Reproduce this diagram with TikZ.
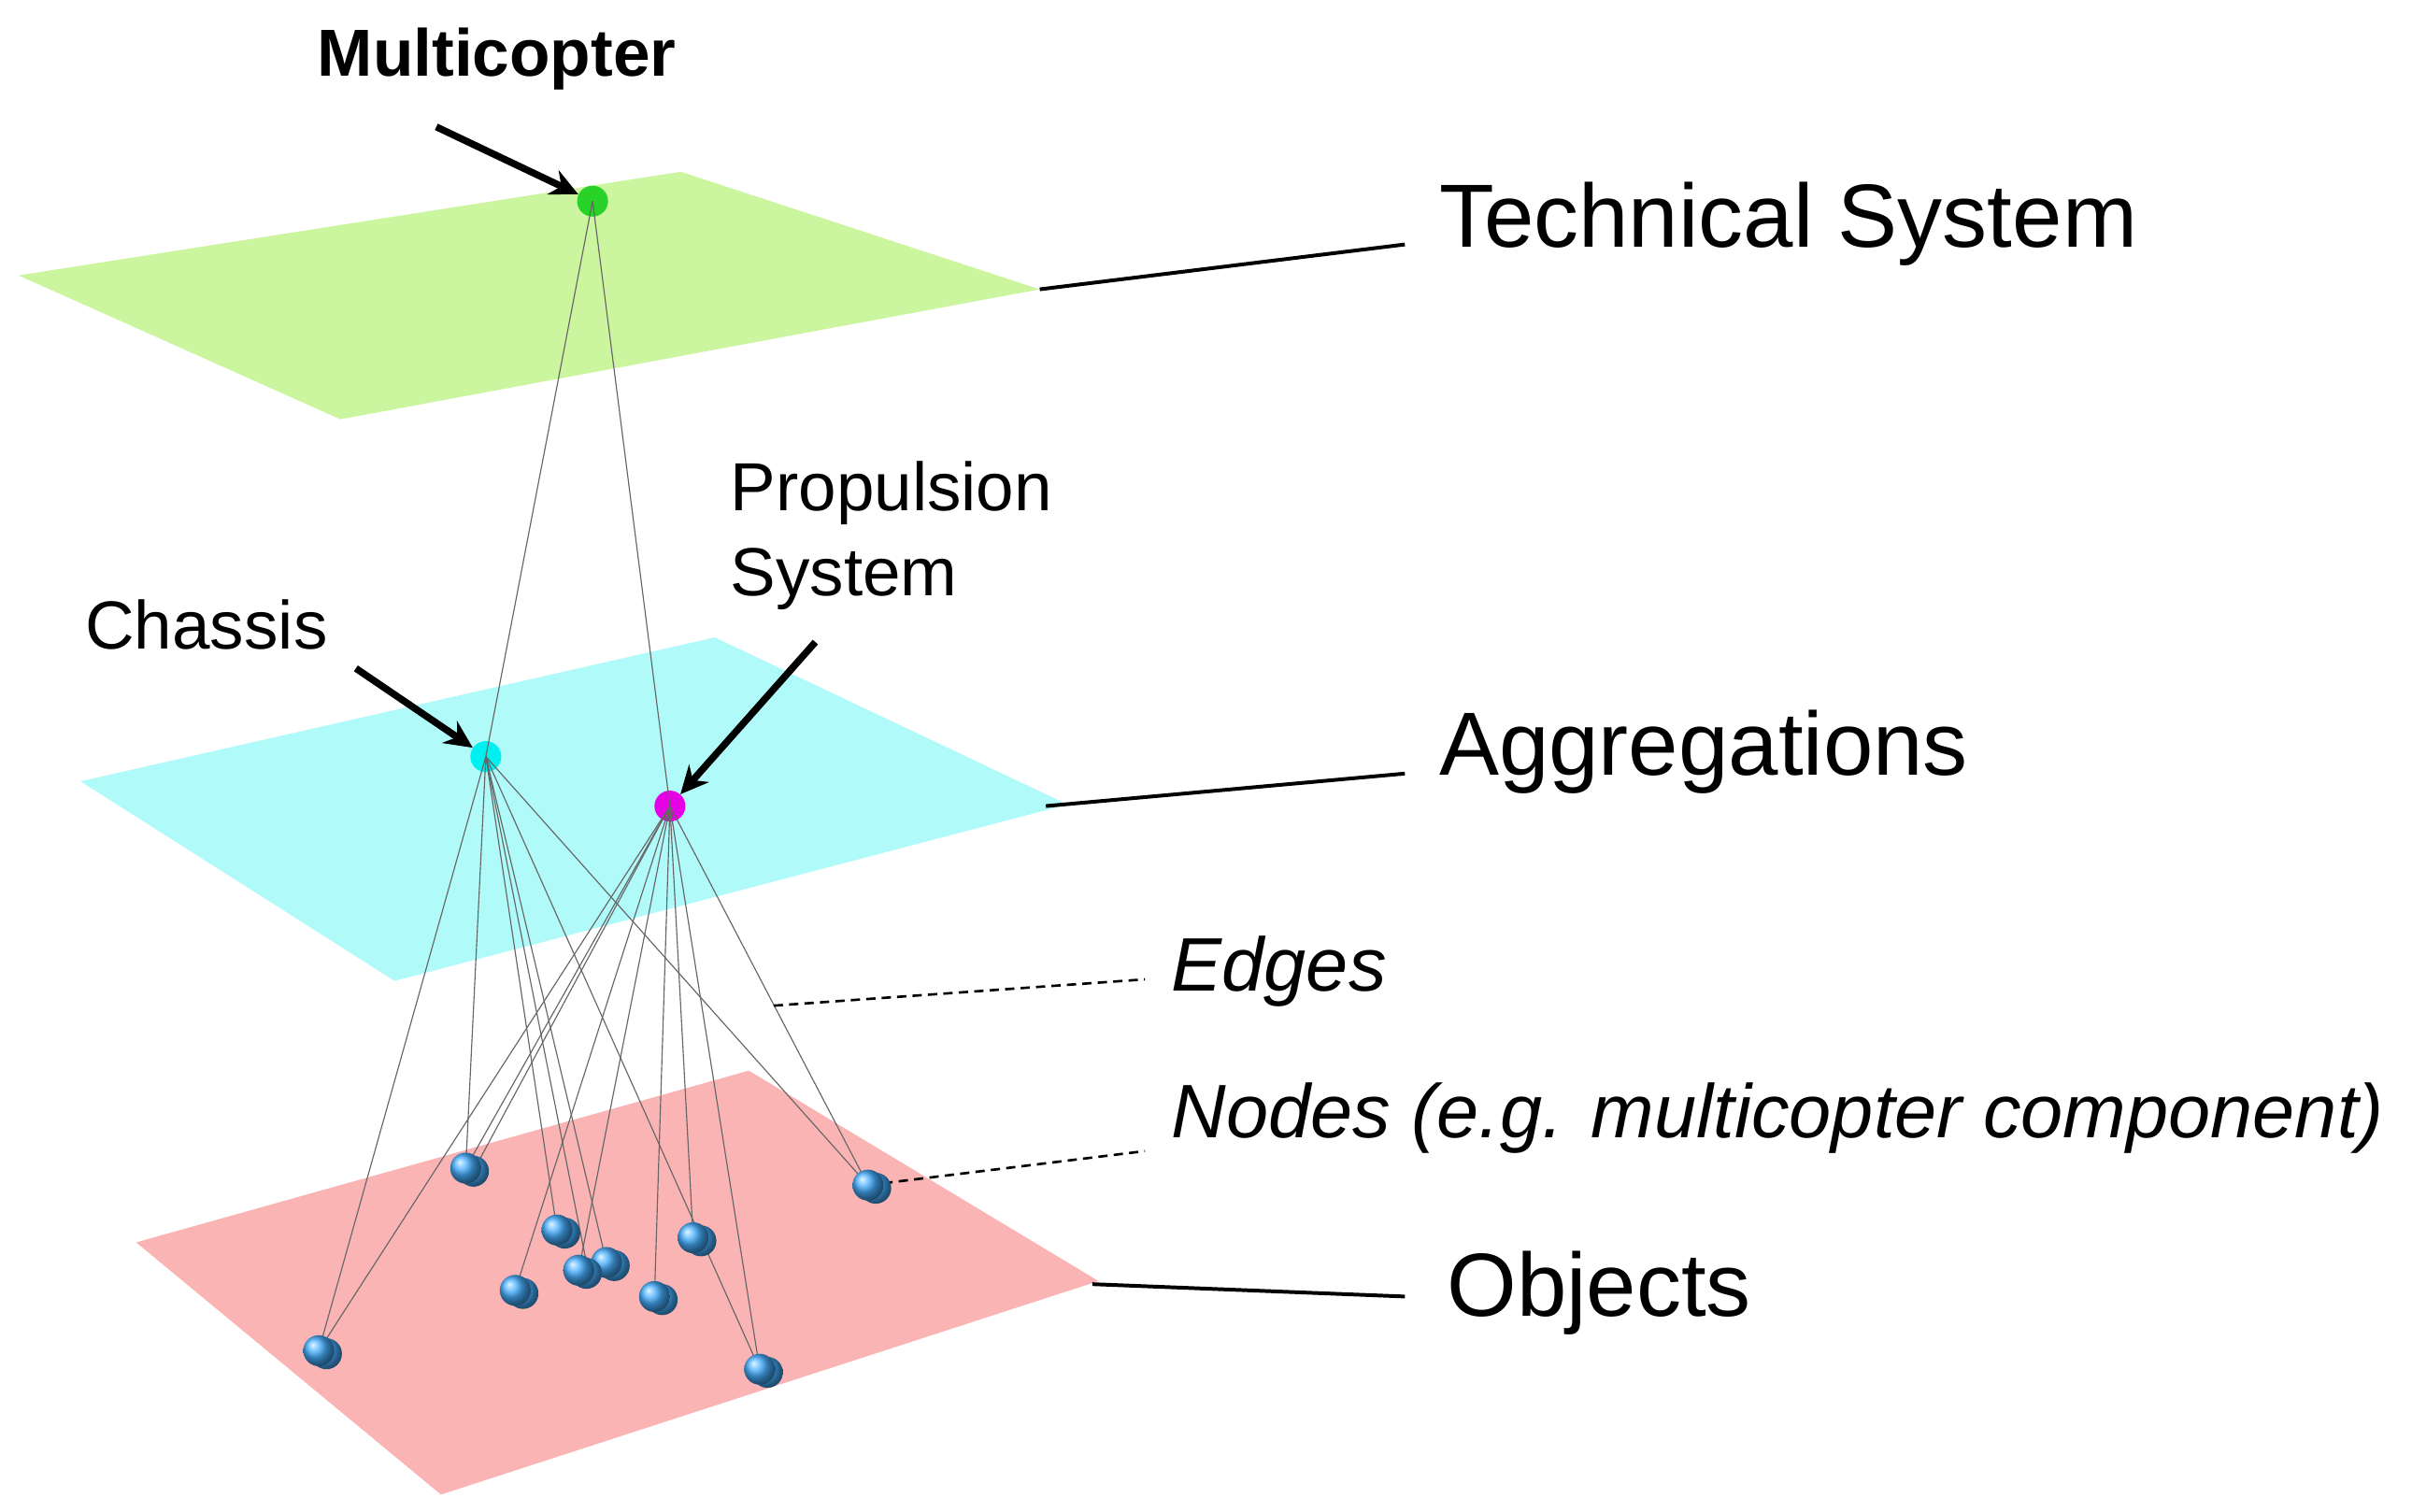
\documentclass[tikz,border=0pt]{standalone}
\usepackage{fontspec}
\setmainfont{Liberation Sans}
\usetikzlibrary{arrows.meta}
\definecolor{pgreen}{RGB}{204,245,160}
\definecolor{pcyan}{RGB}{176,250,250}
\definecolor{pred}{RGB}{251,180,180}
\definecolor{ncyan}{RGB}{0,240,240}
\definecolor{nmag}{RGB}{230,0,230}
\definecolor{ngreen}{RGB}{40,210,40}
\definecolor{nblue}{RGB}{70,175,255}
\begin{document}
\begin{tikzpicture}[x=1pt,y=-1pt,
  lbl/.style={anchor=west,inner sep=0,font=\fontsize{58}{60}\selectfont},
  sml/.style={anchor=west,inner sep=0,font=\fontsize{44}{55}\selectfont,align=left},
  edge/.style={gray!80!black,line width=0.7pt},
  lead/.style={black,line width=2.4pt},
  dlead/.style={black,line width=1.6pt,dash pattern=on 6pt off 4pt},
  pt/.style={black,line width=4.5pt,-{Stealth[length=18pt,width=17pt]}},
  sph/.style={circle,inner sep=0,minimum size=20pt,ball color=nblue},
  agg/.style={circle,inner sep=0,minimum size=20pt}]
\useasboundingbox (0,0) rectangle (1568,977);
% planes
\fill[pgreen] (12,178) -- (440,111) -- (672,187) -- (220,271) -- cycle;
\fill[pcyan] (52,505) -- (462,412) -- (690,520) -- (255,634) -- cycle;
\fill[pred] (88,803) -- (484,692) -- (710,828) -- (285,966) -- cycle;
% leader coordinates
\coordinate (g1) at (672,187); \coordinate (g2) at (908,158);
\coordinate (c1) at (676,521); \coordinate (c2) at (908,500);
\coordinate (r1) at (706,830); \coordinate (r2) at (908,838);
\coordinate (e1) at (500,650); \coordinate (e2) at (740,633);
\coordinate (n2) at (740,744);
\draw[lead] (g1) -- (g2); \draw[lead] (c1) -- (c2); \draw[lead] (r1) -- (r2);
% nodes
\node[agg,fill=ngreen] (M) at (383,130) {};
\node[agg,fill=ncyan] (C) at (314,489) {};
\node[agg,fill=nmag] (P) at (433,521) {};
\coordinate (b1) at (301,755); \coordinate (b2) at (561,766);
\coordinate (b3) at (360,795); \coordinate (b4) at (392,816);
\coordinate (b5) at (374,821); \coordinate (b6) at (333,834);
\coordinate (b7) at (448,800); \coordinate (b8) at (423,838);
\coordinate (b9) at (206,873); \coordinate (b10) at (491,885);
% edges
\draw[edge] (M.center) -- (C.center); \draw[edge] (M.center) -- (P.center);
\foreach \t in {b9,b1,b3,b4,b10,b2} \draw[edge] (C.center) -- (\t);
\draw[edge] (C.center) -- ([xshift=6pt]b5);
\foreach \t in {b1,b9,b6,b5,b8,b7,b10,b2} \draw[edge] (P.center) -- (\t);
\draw[edge] (P.center) -- ([xshift=6pt]b1);
\draw[dlead] (e1) -- (e2);
\draw[dlead] (b2) -- (n2);
% blue spheres
\foreach \n in {b1,b2,b3,b4,b5,b6,b7,b8,b9,b10} {
  \node[sph] at ([xshift=5pt,yshift=-2pt]\n) {};
  \node[sph] (\n n) at (\n) {};
}
% labels
\node[lbl] (ts) at (930,145) {Technical System};
\node[lbl] (ag) at (930,486) {Aggregations};
\node[lbl] (ob) at (935,836) {Objects};
\node[lbl,font=\fontsize{49}{50}\selectfont\itshape] (ed) at (757,628) {Edges};
\node[lbl,font=\fontsize{49}{50}\selectfont\itshape] (nd) at (757,723) {Nodes (e.g. multicopter component)};
\node[sml,font=\fontsize{43}{50}\selectfont\bfseries] (ml) at (205,38) {Multicopter};
\node[sml] (cl) at (55,404) {Chassis};
\node[sml,anchor=north west] (pl) at (472,298) {Propulsion\\System};
% arrows
\coordinate (a1) at (282,82); \coordinate (a2) at (230,432); \coordinate (a3) at (527,415);
\draw[pt] (a1) -- (M);
\draw[pt] (a2) -- (C);
\draw[pt] (a3) -- (P);
\end{tikzpicture}
\end{document}
